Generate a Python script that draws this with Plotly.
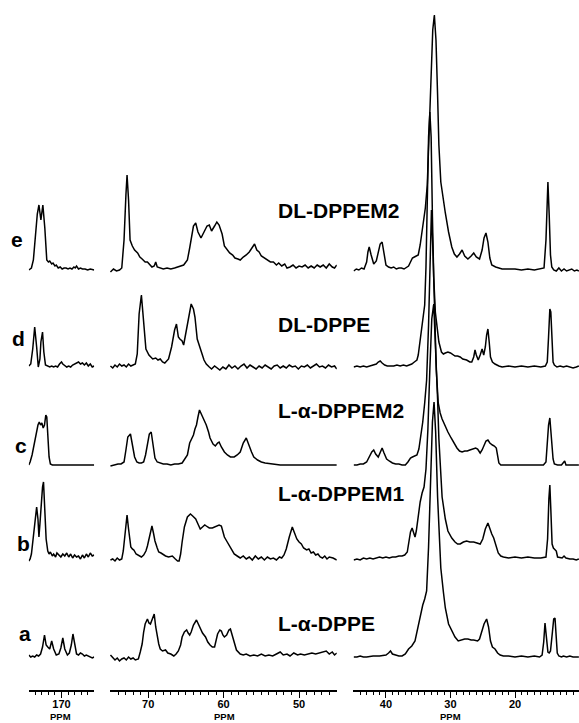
import plotly.graph_objects as go

# ---------------- data: (ppm, intensity above own baseline) ----------------
# carbonyl region 175-165 ppm
e_carbonyl = [(175.0,0),(174.6,2),(174.3,10),(174.0,35),(173.7,56),(173.45,65),(173.15,50),(172.85,65),(172.55,42),
              (172.25,10),(172.0,8),(171.8,9),(171.5,6),(171.3,7),(171.0,4),(170.8,5),(170.5,2),(170.2,3),(169.9,1),
              (169.6,2),(169.3,2),(169.0,1),(168.7,2),(168.4,1),(168.1,3),(167.9,2),(167.7,4),(167.4,1),(167.1,2),
              (166.8,1),(166.4,1),(166.0,0),(165.6,1),(165.0,0)]
d_carbonyl = [(175.0,1),(174.7,3),(174.4,18),(174.1,40),(173.8,20),(173.55,0),(173.3,8),(173.15,25),(172.9,35),
              (172.7,15),(172.45,2),(172.1,1),(171.8,0),(171.5,1),(171.2,0),(170.9,1),(170.6,0),(170.3,3),(170.0,5),
              (169.8,3),(169.5,1),(169.2,0),(168.9,1),(168.6,0),(168.3,2),(168.0,3),(167.7,4),(167.4,5),(167.1,3),
              (166.8,4),(166.5,2),(166.2,4),(165.9,1),(165.6,3),(165.3,0),(165.0,1)]
c_carbonyl = [(175.0,0),(174.8,3),(174.5,10),(174.2,20),(173.9,32),(173.6,40),(173.4,43),(173.2,40),(173.0,42),
              (172.8,37),(172.6,40),(172.4,50),(172.25,48),(172.1,30),(171.9,8),(171.7,1),(171.4,0),(170.0,0),
              (168.0,0),(166.0,0),(165.0,0)]
b_carbonyl = [(175.0,-2),(174.8,0),(174.6,5),(174.3,25),(174.0,45),(173.8,52),(173.6,40),(173.45,22),(173.3,35),
              (173.1,55),(172.9,72),(172.75,77),(172.55,50),(172.35,20),(172.1,8),(171.9,5),(171.7,7),(171.4,3),
              (171.2,5),(170.9,2),(170.7,6),(170.4,4),(170.1,2),(169.8,5),(169.5,3),(169.2,6),(168.9,2),(168.6,5),
              (168.3,1),(168.0,4),(167.7,2),(167.4,3),(167.1,0),(166.8,4),(166.5,1),(166.2,5),(165.9,2),(165.6,6),
              (165.3,3),(165.0,4)]
a_carbonyl = [(175.0,2),(174.7,0),(174.4,1),(174.1,0),(173.8,2),(173.5,1),(173.2,3),(172.9,10),(172.6,22),
              (172.35,12),(172.1,10),(171.8,8),(171.5,16),(171.2,8),(170.8,2),(170.4,3),(170.1,9),(169.8,19),
              (169.5,8),(169.1,2),(168.8,4),(168.5,12),(168.25,23),(168.0,12),(167.7,3),(167.4,2),(167.1,4),
              (166.8,3),(166.5,1),(166.2,2),(165.9,1),(165.6,0),(165.3,-1),(165.0,0)]

# headgroup / glycerol region 75-45 ppm
e_glycerol = [(75.0,-2),(74.6,1),(74.2,-1),(73.8,0),(73.5,2),(73.2,30),(72.95,75),(72.8,95),(72.6,70),(72.4,30),
              (72.1,24),(71.8,20),(71.4,17),(71.1,13),(70.8,11),(70.4,8),(70.1,8),(69.8,5),(69.5,3),(69.2,4),
              (69.0,8),(68.8,3),(68.4,2),(68.0,1),(67.5,2),(67.0,1),(66.5,2),(66.0,3),(65.6,4),(65.3,5),(65.0,8),
              (64.8,10),(64.5,22),(64.3,32),(64.0,44),(63.7,47),(63.4,38),(63.0,32),(62.6,38),(62.2,44),(61.9,45),
              (61.6,39),(61.2,44),(60.9,48),(60.6,45),(60.2,36),(59.9,24),(59.6,21),(59.2,17),(58.8,15),(58.5,12),
              (58.1,11),(57.8,10),(57.4,13),(57.0,15),(56.6,18),(56.3,22),(55.9,26),(55.6,20),(55.3,18),(55.0,14),
              (54.6,12),(54.2,10),(53.8,8),(53.4,8),(53.0,5),(52.7,7),(52.3,4),(51.9,6),(51.6,2),(51.2,3),(50.8,5),
              (50.4,2),(50.0,4),(49.6,3),(49.2,5),(48.8,2),(48.4,4),(48.0,2),(47.6,5),(47.2,3),(46.8,5),(46.4,2),
              (46.0,6),(45.6,3),(45.3,2),(45.0,5)]
d_glycerol = [(75.0,1),(74.7,-1),(74.4,2),(74.1,0),(73.8,3),(73.5,1),(73.2,2),(72.9,0),(72.6,3),(72.3,1),(72.0,2),
              (71.7,3),(71.45,13),(71.2,53),(70.9,72),(70.65,48),(70.3,18),(69.9,12),(69.7,10),(69.4,8),(69.0,9),
              (68.7,7),(68.4,8),(68.1,5),(67.8,4),(67.5,6),(67.3,8),(66.9,20),(66.5,37),(66.25,43),(66.0,30),
              (65.8,28),(65.5,26),(65.3,22),(65.1,30),(64.8,45),(64.5,58),(64.3,63),(64.0,58),(63.8,50),(63.5,28),
              (63.2,22),(62.9,14),(62.6,7),(62.3,3),(61.9,0),(61.6,-2),(61.2,1),(60.9,-1),(60.5,-3),(60.1,0),
              (59.7,-2),(59.3,2),(58.9,-1),(58.5,1),(58.1,-2),(57.7,1),(57.3,3),(56.9,-1),(56.5,2),(56.1,0),
              (55.7,-2),(55.3,1),(54.9,-1),(54.5,2),(54.1,0),(53.7,-2),(53.3,1),(52.9,2),(52.5,-1),(52.1,1),
              (51.7,-1),(51.3,2),(50.9,0),(50.5,1),(50.1,-2),(49.7,1),(49.3,0),(48.9,2),(48.5,-1),(48.1,1),
              (47.7,3),(47.3,0),(46.9,1),(46.5,-1),(46.1,2),(45.7,0),(45.3,1),(45.0,-2)]
c_glycerol = [(75.0,-1),(74.5,0),(74.0,1),(73.6,1),(73.2,3),(72.95,15),(72.7,28),(72.35,31),(72.05,20),(71.8,8),
              (71.5,3),(71.2,2),(70.9,2),(70.6,3),(70.35,10),(70.1,22),(69.85,31),(69.6,33),(69.3,15),(69.1,7),
              (68.8,3),(68.4,2),(68.0,1),(67.5,1),(67.0,0),(66.5,1),(66.0,1),(65.5,2),(65.1,6),(64.8,10),(64.5,22),
              (64.2,27),(64.0,30),(63.8,36),(63.6,40),(63.4,48),(63.2,55),(62.9,50),(62.6,45),(62.3,40),(62.0,33),
              (61.8,27),(61.4,21),(61.1,19),(60.8,22),(60.6,23),(60.3,18),(59.9,13),(59.5,10),(59.1,8),(58.6,8),
              (58.2,10),(57.8,13),(57.4,22),(57.0,27),(56.7,20),(56.3,13),(56.0,8),(55.5,5),(55.0,3),(54.5,2),
              (53.5,1),(52.5,0),(51.0,0),(49.0,0),(47.0,0),(45.0,0)]
b_glycerol = [(75.0,-1),(74.7,0),(74.4,-2),(74.1,1),(73.8,-1),(73.5,0),(73.3,8),(73.1,23),(72.9,40),(72.8,44),
              (72.6,30),(72.3,12),(72.1,10),(71.9,9),(71.6,5),(71.2,3),(70.9,2),(70.6,4),(70.3,8),(70.1,13),(69.8,25),
              (69.5,33),(69.3,26),(69.1,18),(68.8,11),(68.6,7),(68.3,6),(68.0,4),(67.7,3),(67.3,2),(66.8,3),(66.4,0),
              (66.1,-2),(65.9,-2),(65.7,5),(65.5,17),(65.2,32),(64.8,42),(64.4,45),(64.1,43),(63.7,40),(63.4,35),
              (63.1,30),(62.8,32),(62.5,34),(62.3,33),(61.9,31),(61.5,31),(61.2,32),(60.9,33),(60.6,34),(60.3,33),
              (60.1,28),(59.9,22),(59.6,18),(59.3,14),(58.9,8),(58.6,5),(58.2,3),(57.8,1),(57.4,3),(57.0,0),
              (56.6,2),(56.2,-1),(55.8,3),(55.4,0),(55.0,2),(54.6,-1),(54.2,2),(53.8,0),(53.4,1),(53.0,-1),(52.6,2),
              (52.3,1),(52.0,4),(51.7,10),(51.3,22),(51.1,28),(50.9,32),(50.6,26),(50.3,20),(50.0,17),(49.7,15),
              (49.4,11),(49.0,9),(48.7,10),(48.4,6),(48.1,7),(47.8,4),(47.5,5),(47.2,2),(46.9,1),(46.6,3),(46.3,0),
              (46.0,2),(45.5,1),(45.0,-1)]
a_glycerol = [(75.0,2),(74.7,-1),(74.4,-3),(74.1,-1),(73.8,-4),(73.5,-2),(73.2,-1),(72.9,-3),(72.6,0),(72.3,-2),
              (72.0,-1),(71.7,-3),(71.3,-2),(71.05,5),(70.8,13),(70.6,25),(70.4,33),(70.1,38),(69.9,34),(69.7,33),
              (69.45,38),(69.2,43),(69.0,30),(68.8,20),(68.6,13),(68.4,8),(68.1,6),(67.7,7),(67.4,4),(67.0,3),
              (66.6,1),(66.3,3),(66.0,6),(65.7,12),(65.5,20),(65.2,25),(64.9,27),(64.7,24),(64.5,22),(64.3,25),
              (64.0,32),(63.6,37),(63.3,32),(63.1,28),(62.8,24),(62.4,20),(62.1,15),(61.8,12),(61.5,10),(61.2,10),
              (61.0,16),(60.8,23),(60.5,27),(60.3,26),(60.1,22),(59.9,20),(59.6,22),(59.3,27),(59.1,28),(58.9,22),
              (58.6,13),(58.3,7),(57.8,3),(57.4,2),(57.0,3),(56.5,1),(56.0,2),(55.5,1),(55.0,3),(54.5,1),(54.0,2),
              (53.5,1),(53.0,3),(52.5,5),(52.1,2),(51.6,3),(51.2,1),(50.7,4),(50.2,2),(49.8,3),(49.3,2),(48.8,3),
              (48.3,4),(47.8,3),(47.3,4),(46.9,5),(46.4,6),(46.0,3),(45.6,5),(45.3,2),(45.0,4)]

# acyl chain region 45-10 ppm
e_chain = [(45.0,-1),(44.6,1),(44.2,0),(43.8,2),(43.4,1),(43.0,8),(42.8,18),(42.6,23),(42.3,15),(41.9,6),(41.5,9),
           (41.2,18),(40.9,26),(40.6,28),(40.3,15),(40.0,5),(39.6,3),(39.2,2),(38.8,3),(38.4,1),(38.0,2),(37.6,2),
           (37.2,1),(36.8,3),(36.5,4),(36.2,8),(35.9,12),(35.6,13),(35.3,14),(35.0,15),(34.7,25),(34.4,40),
           (34.2,47),(33.9,62),(33.6,85),(33.3,140),(33.0,200),(32.75,240),(32.5,255),(32.25,230),(32.0,175),
           (31.8,125),(31.5,88),(31.2,73),(30.8,57),(30.3,38),(29.8,23),(29.4,16),(29.0,13),(28.6,16),(28.2,20),
           (27.8,14),(27.3,11),(26.8,14),(26.4,17),(26.0,13),(25.5,11),(25.1,20),(24.8,32),(24.5,37),(24.2,28),
           (23.9,12),(23.6,5),(23.0,3),(22.5,2),(22.0,1),(21.0,1),(20.0,1),(19.0,0),(18.0,1),(17.0,0),(16.0,1),
           (15.5,2),(15.2,30),(15.0,80),(14.9,88),(14.7,55),(14.5,15),(14.3,3),(14.0,0),(13.6,-1),(13.2,2),
           (12.8,-1),(12.4,1),(12.0,-1),(11.6,0),(11.2,1),(10.8,-1),(10.4,0),(10.1,-1)]
d_chain = [(45.0,0),(44.5,1),(44.0,0),(43.5,1),(43.0,0),(42.5,1),(42.0,2),(41.5,3),(41.2,5),(40.9,6),(40.6,4),
           (40.2,2),(39.8,1),(39.3,1),(38.8,1),(38.3,2),(37.8,1),(37.3,2),(36.8,1),(36.4,2),(36.0,3),(35.6,5),
           (35.2,7),(35.0,12),(34.7,28),(34.4,45),(34.0,62),(33.8,100),(33.6,170),(33.4,230),(33.2,255),(33.0,230),
           (32.8,150),(32.6,90),(32.35,55),(32.1,40),(31.8,25),(31.4,15),(31.1,13),(30.8,14),(30.4,15),(30.0,14),
           (29.6,12),(29.3,11),(28.9,11),(28.5,10),(28.1,8),(27.5,7),(27.0,5),(26.7,5),(26.4,10),(26.2,17),
           (26.0,12),(25.7,7),(25.4,12),(25.1,18),(24.85,12),(24.6,20),(24.4,32),(24.2,38),(24.0,25),(23.8,10),
           (23.5,5),(23.1,3),(22.5,1),(22.0,0),(21.0,1),(20.0,0),(19.0,1),(18.0,0),(17.0,1),(16.0,0),(15.3,1),
           (15.0,5),(14.8,30),(14.6,58),(14.45,55),(14.3,25),(14.1,5),(13.9,2),(13.5,0),(13.0,1),(12.5,0),
           (12.0,1),(11.5,0),(11.0,-1),(10.5,0),(10.1,1)]
c_chain = [(45.0,0),(44.5,0),(44.0,1),(43.5,1),(43.0,3),(42.6,8),(42.2,13),(41.9,15),(41.6,11),(41.2,8),(40.9,12),
           (40.6,17),(40.3,12),(39.9,6),(39.5,4),(39.0,2),(38.5,1),(38.0,1),(37.5,0),(37.0,0),(36.6,3),(36.2,7),
           (35.9,8),(35.5,9),(35.2,10),(34.9,16),(34.6,28),(34.3,43),(34.0,62),(33.7,85),(33.4,140),(33.2,200),
           (32.95,255),(32.7,210),(32.45,140),(32.2,95),(31.9,62),(31.6,52),(31.3,46),(30.9,40),(30.4,33),
           (29.9,27),(29.4,21),(29.0,17),(28.6,14),(28.2,13),(27.8,14),(27.4,14),(27.0,15),(26.6,16),(26.1,17),
           (25.8,16),(25.4,12),(25.1,15),(24.8,20),(24.5,24),(24.2,25),(23.9,22),(23.5,20),(23.2,19),(22.9,17),
           (22.7,8),(22.5,2),(22.2,0),(21.5,0),(20.5,0),(19.5,0),(18.5,0),(17.5,0),(16.5,0),(15.6,0),(15.2,3),
           (15.0,20),(14.8,40),(14.6,47),(14.4,30),(14.1,6),(13.9,1),(13.4,0),(12.8,0),(12.5,3),(12.3,4),
           (12.1,0),(11.5,0),(11.0,0),(10.5,0),(10.1,0)]
b_chain = [(45.0,-1),(44.5,0),(44.0,-1),(43.5,1),(43.0,0),(42.5,1),(42.0,0),(41.5,1),(41.0,2),(40.5,1),(40.0,2),
           (39.5,1),(39.0,2),(38.5,2),(38.0,3),(37.5,3),(37.1,4),(36.7,7),(36.4,18),(36.2,27),(35.95,31),
           (35.7,26),(35.5,22),(35.3,28),(35.0,45),(34.7,57),(34.4,66),(34.1,72),(33.8,90),(33.5,130),(33.2,190),
           (32.9,240),(32.6,255),(32.3,215),(32.0,160),(31.8,120),(31.6,90),(31.3,62),(30.8,40),(30.4,28),
           (29.8,21),(29.3,17),(28.9,15),(28.5,15),(28.0,17),(27.5,18),(27.0,17),(26.4,17),(25.9,16),(25.4,15),
           (25.0,20),(24.6,30),(24.2,36),(23.9,30),(23.6,25),(23.3,21),(23.0,14),(22.6,6),(22.2,3),(21.8,2),
           (21.0,1),(20.0,2),(19.0,1),(18.0,2),(17.0,1),(16.0,1),(15.2,2),(14.95,20),(14.75,60),(14.6,74),
           (14.45,50),(14.25,15),(14.05,11),(13.8,9),(13.6,8),(13.4,2),(13.0,1),(12.7,1),(12.4,3),(12.1,1),
           (11.5,0),(11.0,0),(10.5,-1),(10.1,0)]
a_chain = [(45.0,0),(44.5,0),(44.0,1),(43.5,0),(43.0,0),(42.0,1),(41.0,1),(40.0,2),(39.6,4),(39.3,6),(39.0,3),
           (38.5,2),(38.0,1),(37.5,1),(37.0,3),(36.5,8),(36.0,11),(35.5,16),(35.2,25),(34.9,35),(34.6,43),
           (34.3,52),(34.0,58),(33.7,66),(33.4,110),(33.1,180),(32.8,235),(32.55,255),(32.3,225),(32.0,160),
           (31.75,115),(31.5,89),(31.1,65),(30.8,49),(30.3,33),(29.8,26),(29.3,20),(28.8,16),(28.3,17),(27.8,18),
           (27.3,18),(26.8,17),(26.4,17),(25.8,16),(25.5,18),(25.2,25),(24.8,33),(24.4,38),(24.1,30),(23.8,16),
           (23.5,10),(23.1,8),(22.7,4),(22.3,2),(21.8,1),(21.0,1),(20.0,0),(19.0,1),(18.0,0),(17.0,1),(16.2,0),
           (15.8,2),(15.55,15),(15.35,34),(15.15,20),(14.9,5),(14.7,4),(14.5,6),(14.2,25),(14.0,38),(13.8,39),
           (13.65,20),(13.45,4),(13.2,1),(12.8,0),(12.5,1),(12.0,0),(11.5,1),(11.0,0),(10.5,0),(10.1,0)]

spectrum_letters = ["e", "d", "c", "b", "a"]
spectrum_names = ["DL-DPPEM2", "DL-DPPE", "L-α-DPPEM2", "L-α-DPPEM1", "L-α-DPPE"]
carbonyl_ticks = [170]
glycerol_ticks = [70, 60, 50]
chain_ticks = [40, 30, 20]

# ---------------- layout helpers (pixels) ----------------
W, H = 579, 723
AXIS_Y = 690
baseline_px = {"e": 270, "d": 367, "c": 465, "b": 559, "a": 657}
letter_pos = {"e": (16.5, 240), "d": (18, 338), "c": (20.5, 445), "b": (23, 543), "a": (24.5, 633)}
name_y = [210, 325, 410, 493, 623]

series = {
    "e": (e_carbonyl, e_glycerol, e_chain),
    "d": (d_carbonyl, d_glycerol, d_chain),
    "c": (c_carbonyl, c_glycerol, c_chain),
    "b": (b_carbonyl, b_glycerol, b_chain),
    "a": (a_carbonyl, a_glycerol, a_chain),
}

fig = go.Figure()
axes_ids = ["x", "x2", "x3"]
for letter in spectrum_letters:
    off = AXIS_Y - baseline_px[letter]
    for pts, ax in zip(series[letter], axes_ids):
        fig.add_trace(go.Scatter(
            x=[p for p, _ in pts], y=[off + v for _, v in pts],
            xaxis=ax, yaxis="y", mode="lines",
            line=dict(color="black", width=1.5), hoverinfo="skip", showlegend=False))

def px(x):
    return x / W

def py(y):
    return 1 - y / H

tickfont = dict(family="Liberation Sans, Arial, sans-serif", size=11, color="black", weight="bold")

def xaxis_cfg(x0, x1, rng, ticks, minor_vals):
    return dict(
        domain=[px(x0), px(x1)], range=rng, anchor="y",
        showline=True, linecolor="black", linewidth=1.5,
        showgrid=False, zeroline=False,
        tickmode="array", tickvals=ticks, ticktext=[str(t) for t in ticks],
        ticks="outside", ticklen=6, tickwidth=1.3, tickcolor="black",
        tickfont=tickfont, ticklabelstandoff=-3,
        minor=dict(tickmode="array", tickvals=minor_vals, ticks="outside", ticklen=3,
                   tickwidth=1, tickcolor="black", showgrid=False),
    )

layout = dict(
    width=W, height=H, margin=dict(l=0, r=0, t=0, b=0),
    paper_bgcolor="white", plot_bgcolor="white", showlegend=False,
    xaxis=xaxis_cfg(28.8, 94.2, [175, 165], carbonyl_ticks, list(range(166, 175))),
    xaxis2=xaxis_cfg(109.7, 336.8, [75.1, 45.0], glycerol_ticks, list(range(46, 75))),
    xaxis3=xaxis_cfg(353.4, 579, [45.05, 10.08], chain_ticks, list(range(11, 45))),
    yaxis=dict(domain=[1 - AXIS_Y / H, 1], range=[0, AXIS_Y], visible=False, fixedrange=True),
)
fig.update_layout(**layout)

annots = []
label_font = dict(family="Liberation Sans, Arial, sans-serif", size=21, color="black", weight="bold")
for letter in spectrum_letters:
    x, y = letter_pos[letter]
    annots.append(dict(text=letter, x=px(x), y=py(y), xref="paper", yref="paper",
                       xanchor="center", yanchor="middle", showarrow=False, font=label_font))
for name, y in zip(spectrum_names, name_y):
    annots.append(dict(text=name, x=px(276), y=py(y), xref="paper", yref="paper",
                       xanchor="left", yanchor="middle", showarrow=False, font=label_font))
ppm_font = dict(family="Liberation Sans, Arial, sans-serif", size=9.5, color="black", weight="bold")
for xc in (60.9, 224.2, 450.5):
    annots.append(dict(text="PPM", x=px(xc), y=py(723), xref="paper", yref="paper",
                       xanchor="center", yanchor="bottom", showarrow=False, font=ppm_font,
                       borderpad=0))
fig.update_layout(annotations=annots)

fig.write_html("out.html")
